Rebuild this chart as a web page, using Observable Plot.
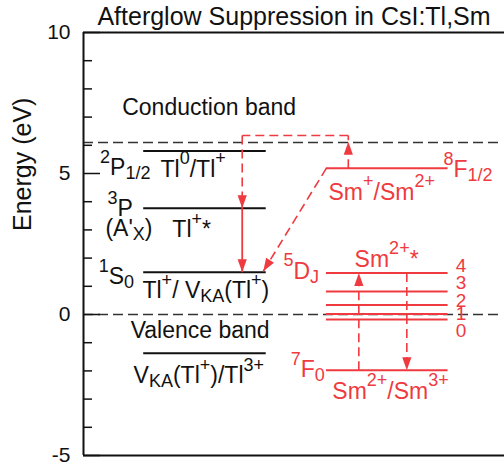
<!DOCTYPE html>
<html>
<head>
<meta charset="utf-8">
<script src="https://cdn.jsdelivr.net/npm/d3@7"></script>
<script src="https://cdn.jsdelivr.net/npm/@observablehq/plot@0.6"></script>
<style>
  html, body { margin: 0; padding: 0; background: #fff; }
</style>
</head>
<body>
<div id="chart"></div>
<script>
// ---------- data ----------
const title = "Afterglow Suppression in CsI:Tl,Sm";
const yLabel = "Energy (eV)";
const yTicks = [-5, 0, 5, 10];
const yMinorTicks = [-4, -3, -2, -1, 1, 2, 3, 4, 6, 7, 8, 9];

// band edges (eV)
const bandEdges = [
  {name: "Conduction band", y: 6.1},
  {name: "Valence band", y: 0}
];

// Tl levels (eV) and their column
const tlColumn = [14.3, 43.4];
const tlLevels = [
  {state: "2P1/2", y: 5.8},
  {state: "3P", y: 3.77},
  {state: "1S0", y: 1.5},
  {state: "VKA(Tl+)/Tl3+", y: -1.37}
];

// Sm levels (eV) and their column
const smColumn = [57.7, 86.6];
const smLevels = [
  {state: "8F1/2", y: 5.19},
  {state: "5D4", y: 1.47},
  {state: "5D3", y: 0.82},
  {state: "5D2", y: 0.34},
  {state: "5D1", y: 0.02},
  {state: "5D0", y: -0.18},
  {state: "7F0", y: -1.98}
];

// transitions
const transitions = [
  {x1: 62.9, y1: 5.19, x2: 62.9, y2: 6.35, dashed: true,  head: false},
  {x1: 62.9, y1: 6.35, x2: 37.7, y2: 6.35, dashed: true,  head: false},
  {x1: 37.7, y1: 6.35, x2: 37.7, y2: 3.77, dashed: true,  head: true},
  {x1: 37.7, y1: 3.77, x2: 37.7, y2: 1.5,  dashed: false, head: true},
  {x1: 57.7, y1: 5.19, x2: 42.7, y2: 1.53, dashed: true,  head: true},
  {x1: 65.4, y1: -1.98, x2: 65.4, y2: 1.47, dashed: true, head: true},
  {x1: 76.8, y1: 1.47, x2: 76.8, y2: -1.98, dashed: true, head: true}
];
// arrowhead placed where the thermal release crosses the conduction band
const crossingHeads = [{x1: 62.9, y1: 5.19, x2: 62.9, y2: 6.13}];

// labels
const tlLabels = [
  {text: "Conduction band", x: 9.19, y: 7.06, anchor: "start"},
  {text: "^{2}P_{1/2}", x: 15.9, y: 4.93, anchor: "end"},
  {text: "Tl^{0}/Tl^{+}", x: 18.3, y: 4.89, anchor: "start"},
  {text: "^{3}P", x: 5.7, y: 3.49, anchor: "start"},
  {text: "(A'_{X})", x: 5.2, y: 2.78, anchor: "start"},
  {text: "Tl^{+}*", x: 21.1, y: 2.74, anchor: "start"},
  {text: "^{1}S_{0}", x: 3.6, y: 1.07, anchor: "start"},
  {text: "Tl^{+}/ V_{KA}(Tl^{+})", x: 14.0, y: 0.57, anchor: "start"},
  {text: "Valence band", x: 11.2, y: -0.82, anchor: "start"},
  {text: "V_{KA}(Tl^{+})/Tl^{3+}", x: 11.9, y: -2.44, anchor: "start"}
];
const smLabels = [
  {text: "Sm^{+}/Sm^{2+}", x: 58.2, y: 4.07},
  {text: "^{8}F_{1/2}", x: 85.5, y: 4.87},
  {text: "^{5}D_{J}", x: 47.5, y: 1.27},
  {text: "Sm^{2+}*", x: 64.4, y: 1.70},
  {text: "^{7}F_{0}", x: 49.2, y: -2.23},
  {text: "Sm^{2+}/Sm^{3+}", x: 59.1, y: -2.98}
];
const jLabelX = 88.4;
const jLabels = [
  {j: "4", y: 1.50},
  {j: "3", y: 0.91},
  {j: "2", y: 0.26},
  {j: "1", y: -0.21},
  {j: "0", y: -0.80}
];

// ---------- layout / style ----------
const W = 504, H = 468;
const mL = 83, mR = 0, mT = 32, mB = 13;
const xDomain = [0, 100], yDomain = [-5, 10];
const RED = "#ef3a40";
const INK = "#111";
const FONT = "'Liberation Sans', Arial, Helvetica, sans-serif";

const xs = d3.scaleLinear(xDomain, [mL, W - mR]);
const ys = d3.scaleLinear(yDomain, [H - mB, mT]);
const frameW = W - mL - mR;

function headSymbol(d) {
  let dx = xs(d.x2) - xs(d.x1), dy = ys(d.y2) - ys(d.y1);
  const n = Math.hypot(dx, dy) || 1;
  const ux = dx / n, uy = dy / n;
  const L = 13, Wd = 4.6;
  return {
    draw(ctx) {
      const bx = -ux * L, by = -uy * L;
      ctx.moveTo(0, 0);
      ctx.lineTo(bx - uy * Wd, by + ux * Wd);
      ctx.lineTo(bx + uy * Wd, by - ux * Wd);
      ctx.closePath();
    }
  };
}

const heads = [...transitions.filter(d => d.head), ...crossingHeads];

const marks = [
  // band edges
  Plot.ruleY(bandEdges, {y: "y", x1: 0, x2: 99, stroke: "#333", strokeWidth: 1.6, strokeDasharray: "10,5"}),
  // inward ticks
  Plot.ruleY(yMinorTicks, {y: d => d, insetRight: frameW - 9, stroke: INK, strokeWidth: 1.5}),
  Plot.ruleY(yTicks, {y: d => d, insetRight: frameW - 17, stroke: INK, strokeWidth: 1.5}),
  // frame (left, top, bottom)
  Plot.ruleX([0], {stroke: INK, strokeWidth: 2}),
  Plot.ruleY([yDomain[1], yDomain[0]], {stroke: INK, strokeWidth: 2}),
  // Tl levels
  Plot.ruleY(tlLevels, {y: "y", x1: tlColumn[0], x2: tlColumn[1], stroke: INK, strokeWidth: 2}),
  // Sm levels
  Plot.ruleY(smLevels, {y: "y", x1: smColumn[0], x2: smColumn[1], stroke: RED, strokeWidth: 2}),
  // transitions
  Plot.link(transitions.filter(d => d.dashed), {x1: "x1", y1: "y1", x2: "x2", y2: "y2", stroke: RED, strokeWidth: 1.6, strokeDasharray: "9,5"}),
  Plot.link(transitions.filter(d => !d.dashed), {x1: "x1", y1: "y1", x2: "x2", y2: "y2", stroke: RED, strokeWidth: 1.8}),
  // arrowheads
  ...heads.map(d => Plot.dot([d], {x: "x2", y: "y2", symbol: headSymbol(d), fill: RED, stroke: "none", r: 5})),
  // labels
  Plot.text(tlLabels.filter(d => d.anchor === "start"), {x: "x", y: "y", text: "text", textAnchor: "start", lineAnchor: "bottom", fontSize: 23, fill: INK}),
  Plot.text(tlLabels.filter(d => d.anchor === "end"), {x: "x", y: "y", text: "text", textAnchor: "end", lineAnchor: "bottom", fontSize: 23, fill: INK}),
  Plot.text(smLabels, {x: "x", y: "y", text: "text", textAnchor: "start", lineAnchor: "bottom", fontSize: 23, fill: RED}),
  Plot.text(jLabels, {x: () => jLabelX, y: "y", text: "j", textAnchor: "start", lineAnchor: "bottom", fontSize: 19, fill: RED}),
  // title and y label
  Plot.text([title], {text: d => d, frameAnchor: "top", lineAnchor: "bottom", dy: -8, fontSize: 25, fill: INK}),
  Plot.text([yLabel], {text: d => d, frameAnchor: "left", rotate: -90, dx: -61, dy: -13, fontSize: 25, fill: INK})
];

const chart = Plot.plot({
  width: W,
  height: H,
  marginLeft: mL,
  marginRight: mR,
  marginTop: mT,
  marginBottom: mB,
  style: {fontFamily: FONT, fontSize: "21px", color: INK, background: "#fff", overflow: "visible"},
  x: {domain: xDomain, axis: null},
  y: {domain: yDomain, ticks: yTicks, tickSize: 0, tickPadding: 13, tickFormat: d => String(d), label: null},
  marks
});

// render ^{...} / _{...} markup as super/subscript tspans
const SUB_SIZE = 18, SUP_SHIFT = 12.5, SUB_SHIFT = 4;
chart.querySelectorAll("text").forEach(el => {
  const s = el.textContent;
  if (!/[\^_]\{/.test(s)) return;
  const parts = s.split(/(\^\{[^}]*\}|_\{[^}]*\})/).filter(p => p !== "");
  while (el.firstChild) el.removeChild(el.firstChild);
  let cur = 0;
  for (const p of parts) {
    let target = 0, size = null, content = p;
    if (p.startsWith("^{")) { target = -SUP_SHIFT; size = SUB_SIZE; content = p.slice(2, -1); }
    else if (p.startsWith("_{")) { target = SUB_SHIFT; size = SUB_SIZE; content = p.slice(2, -1); }
    const t = document.createElementNS("http://www.w3.org/2000/svg", "tspan");
    if (target !== cur) t.setAttribute("dy", target - cur);
    if (size) t.setAttribute("font-size", size);
    t.textContent = content;
    el.appendChild(t);
    cur = target;
  }
});

document.getElementById("chart").appendChild(chart);
</script>
</body>
</html>
